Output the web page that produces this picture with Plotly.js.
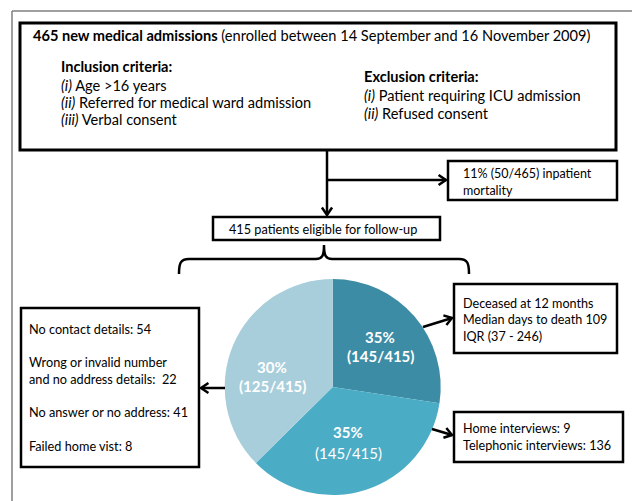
<!DOCTYPE html>
<html>
<head>
<meta charset="utf-8">
<script src="https://cdn.plot.ly/plotly-3.0.1.min.js"></script>
<style>html,body{margin:0;padding:0;background:#fff;}#chart{width:632px;height:501px;}</style>
</head>
<body>
<div id="chart"></div>
<script>
// ---- data ----
const sliceNames = ["Deceased", "Interviewed", "Lost to follow-up"];
const sliceCounts = [145, 145, 125];
const slicePercents = ["35%", "35%", "30%"];
const sliceShares = [27.4, 35.2, 37.4]; // angular shares as drawn in the reference
const sliceColors = ["#3d8ca5", "#4bacc6", "#a8cedb"];
const totalEligible = 415;
const totalAdmissions = 465;
const inpatientDeaths = 50;
const lostReasons = ["No contact details", "Wrong or invalid number<br>and no address details", "No answer or no address", "Failed home vist"];
const lostCounts = [54, 22, 41, 8];
const interviewTypes = ["Home interviews", "Telephonic interviews"];
const interviewCounts = [9, 136];
const medianDaysToDeath = 109;
const iqrDays = [37, 246];

const FONT = "Lato, 'Open Sans', sans-serif";
const shapes = [];
const annotations = [];

function box(x0, y0, x1, y1, w) {
  shapes.push({type: "rect", xref: "x", yref: "y", x0: x0, y0: y0, x1: x1, y1: y1,
    line: {color: "#000", width: w || 2.5}, fillcolor: "rgba(0,0,0,0)", layer: "above"});
}
function line(x0, y0, x1, y1, w, c) {
  shapes.push({type: "line", xref: "x", yref: "y", x0: x0, y0: y0, x1: x1, y1: y1,
    line: {color: c || "#000", width: w || 2.5}, layer: "above"});
}
function arrow(x0, y0, x1, y1) {
  line(x0, y0, x1, y1, 2.5);
  const a = Math.atan2(y1 - y0, x1 - x0), L = 9, s = 0.6;
  const p1 = [x1 - L * Math.cos(a - s), y1 - L * Math.sin(a - s)];
  const p2 = [x1 - L * Math.cos(a + s), y1 - L * Math.sin(a + s)];
  shapes.push({type: "path", xref: "x", yref: "y",
    path: `M${p1[0]},${p1[1]} L${x1},${y1} L${p2[0]},${p2[1]}`,
    line: {color: "#000", width: 2.5}, layer: "above"});
}
function text(x, y, t, size, color, anchor) {
  annotations.push({xref: "x", yref: "y", x: x, y: y, text: t, showarrow: false,
    xanchor: anchor || "left", yanchor: "middle", align: anchor === "center" ? "center" : "left",
    font: {family: FONT, size: size || 13, color: color || "#000"}});
}

// outer frame (only top and left visible)
line(12, 11, 640, 11, 1.5, "#7f7f7f");
line(12, 11, 12, 510, 1.5, "#7f7f7f");

// main box
const MS = 14.6;
box(20, 23, 616, 150, 3);
text(31, 35, `<b>${totalAdmissions} new medical admissions</b> (enrolled between 14 September and 16 November 2009)`, MS);
text(59, 66, "<b>Inclusion criteria:</b>", MS);
text(59, 85, "<i>(i)</i> Age >16 years", MS);
text(59, 102, "<i>(ii)</i> Referred for medical ward admission", MS);
text(59, 119, "<i>(iii)</i> Verbal consent", MS);
text(362, 76, "<b>Exclusion criteria:</b>", MS);
text(362, 95, "<i>(i)</i> Patient requiring ICU admission", MS);
text(362, 113, "<i>(ii)</i> Refused consent", MS);

// flow
arrow(327, 150, 327, 215);
arrow(327, 180, 446, 180);
box(448, 161, 617, 200, 2.5);
text(461, 173, `${Math.round(inpatientDeaths / totalAdmissions * 100)}% (${inpatientDeaths}/${totalAdmissions}) inpatient`, 12.5);
text(461, 190, "mortality", 12.5);

box(213, 217, 440, 240, 2.5);
text(227, 228.5, `${totalEligible} patients eligible for follow-up`, 12.7);

// brace
shapes.push({type: "path", xref: "x", yref: "y",
  path: "M179,274 C179,264 180,259 189,259 L316,259 C322,259 324,256 324,245 C324,256 326,259 332,259 L459,259 C468,259 469,264 469,274",
  line: {color: "#000", width: 2.5}, layer: "above"});

// left box
box(21, 308, 199, 467, 2.5);
const lostYs = [329, 370.5, 412, 446];
lostReasons.forEach((r, i) => text(27, lostYs[i], `${r}: ${i === 1 ? " " : ""}${lostCounts[i]}`, 12.7));
arrow(225, 388, 201, 388);

// deceased box
box(454, 284, 617, 353, 2.5);
text(461, 303, "Deceased at 12 months", 12.6);
text(461, 319.5, `Median days to death ${medianDaysToDeath}`, 12.6);
text(461, 336, `IQR (${iqrDays[0]} - ${iqrDays[1]})`, 12.6);
arrow(423, 327, 452, 318);

// interview box
box(454, 412, 623, 462, 2.5);
text(461, 428, `${interviewTypes[0]}: ${interviewCounts[0]}`, 12.6);
text(461, 445, `${interviewTypes[1]}: ${interviewCounts[1]}`, 12.6);
arrow(432, 429, 452, 435);

// pie labels
const lblPos = [[380, 337, 356], [348, 432, 453], [272, 367, 386]];
sliceCounts.forEach((c, i) => {
  const p = lblPos[i];
  text(p[0], p[1], `<b>${slicePercents[i]}</b>`, 15, "#fff", "center");
  text(p[0], p[2], i === 1 ? `(${c}/${totalEligible})` : `<b>(${c}/${totalEligible})</b>`, 15, "#fff", "center");
});

const W = 632, H = 501;
const cx = 332.7, cy = 387, r = 108;
const trace = {
  type: "pie", values: sliceShares, labels: sliceNames, sort: false, direction: "clockwise", rotation: 0,
  marker: {colors: sliceColors, line: {width: 0}}, textinfo: "none", hoverinfo: "none", showlegend: false,
  domain: {x: [(cx - r) / W, (cx + r) / W], y: [1 - (cy + r) / H, 1 - (cy - r) / H]}
};
const layout = {
  width: W, height: H, margin: {l: 0, r: 0, t: 0, b: 0}, paper_bgcolor: "#fff", plot_bgcolor: "rgba(0,0,0,0)",
  xaxis: {range: [0, W], visible: false, fixedrange: true},
  yaxis: {range: [H, 0], visible: false, fixedrange: true},
  shapes: shapes, annotations: annotations, showlegend: false
};
Plotly.newPlot("chart", [trace], layout, {staticPlot: true, displayModeBar: false});
</script>
</body>
</html>
